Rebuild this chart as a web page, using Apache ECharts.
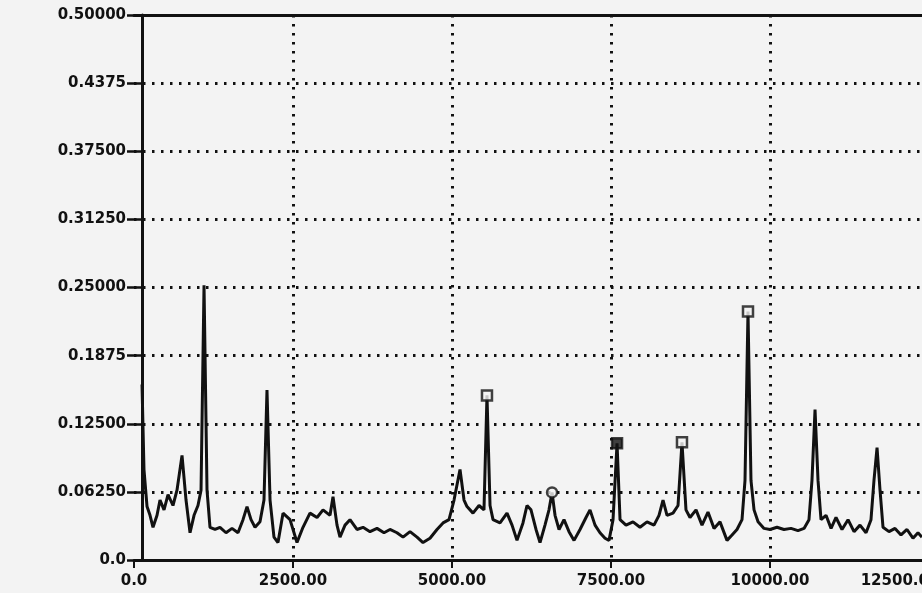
<!DOCTYPE html>
<html>
<head>
<meta charset="utf-8">
<script src="https://cdn.jsdelivr.net/npm/echarts@6/dist/echarts.min.js"></script>
<style>html,body{margin:0;padding:0;background:#f3f3f3;}#c{width:922px;height:593px;}</style>
</head>
<body>
<div id="c"></div>
<script>
// Frequency (x) values of the spectrum trace
var freq = [126,157,205,252,299,362,409,472,535,613,676,755,818,881,944,1006,1054,1101,1148,1195,
1274,1352,1447,1541,1635,1714,1777,1840,1903,1981,2044,2091,2139,2201,2264,2343,2453,2563,2657,2767,
2878,2972,3082,3129,3192,3239,3318,3396,3506,3601,3711,3821,3931,4025,4135,4230,4340,4450,4544,4654,
4764,4859,4953,5032,5126,5189,5236,5330,5425,5503,5550,5598,5645,5755,5865,5944,6022,6116,6179,6242,
6321,6384,6462,6525,6573,6620,6683,6761,6840,6919,7013,7107,7170,7249,7327,7406,7469,7532,7595,7642,
7736,7846,7956,8066,8176,8255,8318,8381,8475,8554,8616,8679,8742,8837,8931,9025,9120,9214,9324,9403,
9481,9560,9607,9654,9701,9749,9812,9906,10000,10110,10220,10330,10440,10535,10613,10660,10708,10755,10802,10881,
10960,11038,11132,11227,11321,11415,11510,11588,11635,11683,11730,11777,11871,11966,12060,12154,12248,12327,12390];
// Amplitude values of the spectrum trace
var amp = [0.161,0.083,0.049,0.041,0.030,0.041,0.055,0.046,0.060,0.050,0.064,0.096,0.055,0.025,0.041,0.050,0.064,0.252,0.064,0.030,
0.028,0.030,0.025,0.029,0.025,0.037,0.049,0.037,0.030,0.035,0.055,0.156,0.055,0.021,0.016,0.043,0.037,0.016,0.030,0.043,
0.039,0.046,0.041,0.058,0.032,0.021,0.032,0.037,0.028,0.030,0.026,0.029,0.025,0.028,0.025,0.021,0.026,0.021,0.016,0.020,
0.028,0.034,0.037,0.055,0.083,0.055,0.049,0.043,0.050,0.046,0.151,0.050,0.037,0.034,0.043,0.032,0.018,0.034,0.050,0.046,
0.028,0.016,0.032,0.046,0.062,0.041,0.028,0.037,0.026,0.018,0.028,0.039,0.046,0.032,0.025,0.020,0.018,0.037,0.107,0.037,
0.032,0.035,0.030,0.035,0.032,0.041,0.055,0.041,0.043,0.050,0.108,0.046,0.039,0.046,0.032,0.044,0.029,0.035,0.018,0.023,
0.028,0.037,0.073,0.228,0.073,0.046,0.035,0.029,0.028,0.030,0.028,0.029,0.027,0.029,0.037,0.073,0.138,0.073,0.037,0.041,
0.029,0.039,0.028,0.037,0.026,0.032,0.025,0.037,0.073,0.103,0.064,0.030,0.026,0.029,0.023,0.028,0.020,0.025,0.021];
// Marked peaks
var markFreq = [5550, 6573, 7595, 8616, 9654];
var markAmp = [0.151, 0.062, 0.107, 0.108, 0.228];
var markSymbol = ['rect', 'circle', 'rect', 'rect', 'rect'];
var markFilled = [false, false, true, false, false];
// Tick labels
var yTickLabels = ['0.0','0.06250','0.12500','0.1875','0.25000','0.31250','0.37500','0.4375','0.50000'];
var xTickLabels = ['0.0','2500.00','5000.00','7500.00','10000.00','12500.0'];

var line = freq.map(function (f, i) { return [f, amp[i]]; });
var marks = markFreq.map(function (f, i) {
  return {
    value: [f, markAmp[i]],
    symbol: markSymbol[i],
    itemStyle: { color: markFilled[i] ? '#111' : '#f3f3f3', borderColor: '#111', borderWidth: 2.5 }
  };
});

var chart = echarts.init(document.getElementById('c'));
var labelFont = { color: '#111', fontSize: 15, fontWeight: 'bold', fontFamily: 'DejaVu Sans' };
var dotted = { color: '#111', width: 3, type: [2.5, 6.5] };
chart.setOption({
  backgroundColor: '#f3f3f3',
  animation: false,
  grid: { left: 134, top: 15, right: -7, bottom: 33, outerBoundsMode: 'none', containLabel: false, show: false },
  xAxis: [{
    type: 'value', min: 0, max: 12500, interval: 2500,
    axisLine: { show: true, lineStyle: { color: '#111', width: 3 } },
    axisTick: { show: true, length: 8, lineStyle: { color: '#111', width: 2 } },
    axisLabel: Object.assign({ margin: 14, alignMaxLabel: 'right', formatter: function (v) { return xTickLabels[Math.round(v / 2500)]; } }, labelFont),
    splitLine: { show: true, showMinLine: false, lineStyle: dotted }
  }, {
    type: 'value', position: 'top', min: 0, max: 12500, interval: 2500,
    axisLine: { show: true, lineStyle: { color: '#111', width: 3 } },
    axisTick: { show: false }, axisLabel: { show: false }, splitLine: { show: false }
  }],
  yAxis: {
    type: 'value', min: 0, max: 0.5, interval: 0.0625, offset: -8,
    axisLine: { show: true, lineStyle: { color: '#111', width: 3 } },
    axisTick: { show: true, length: 15, lineStyle: { color: '#111', width: 2.5 } },
    axisLabel: Object.assign({ margin: 16, formatter: function (v) { return yTickLabels[Math.round(v / 0.0625)]; } }, labelFont),
    splitLine: { show: true, showMinLine: false, showMaxLine: false, lineStyle: dotted }
  },
  series: [
    { type: 'line', data: line, showSymbol: false, lineStyle: { color: '#111', width: 3 }, z: 3 },
    { type: 'scatter', data: marks, symbolSize: 10, z: 4 }
  ]
});
</script>
</body>
</html>
